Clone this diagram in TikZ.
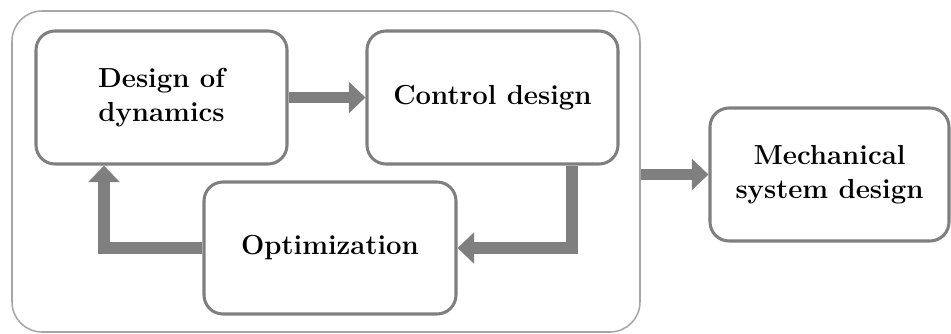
\documentclass[tikz,border=0pt]{standalone}
\usepackage{tikz}
\usetikzlibrary{arrows.meta}
\definecolor{boxgray}{HTML}{7F7F7F}
\definecolor{framegray}{HTML}{A6A6A6}
\tikzset{
  stage/.style={draw=boxgray,line width=2.6pt,rounded corners=0.57cm,fill=white,
    align=center,inner sep=0pt,font=\fontsize{23.5}{29}\selectfont\bfseries},
  frame/.style={draw=framegray,line width=1.3pt,rounded corners=0.9cm,inner sep=0pt},
  flow/.style={draw=boxgray,line width=10pt,
    -{Triangle[length=0.5cm,width=0.92cm]}},
}

\begin{document}
\begin{tikzpicture}[x=0.3mm,y=-0.3mm]
  \useasboundingbox (0,0) rectangle (951,333);
  % outer loop of the three design stages
  \node[frame,minimum width=18.84cm,minimum height=9.63cm] (loop) at (326,171.5) {};
  \node[stage,minimum width=7.53cm,minimum height=3.99cm] (dyn) at (161.5,97.5) {Design of\\dynamics};
  \node[stage,minimum width=7.53cm,minimum height=3.99cm] (ctrl) at (492.5,97.5) {Control design};
  \node[stage,minimum width=7.56cm,minimum height=3.96cm] (opt) at (330,248) {Optimization};
  \node[stage,minimum width=7.17cm,minimum height=3.99cm] (mech) at (829.5,174.5) {Mechanical\\system design};
  % arrows
  \draw[flow] (dyn) -- (ctrl);
  \draw[flow] (ctrl.south -| 572,0) |- (opt.east);
  \draw[flow] (opt.west) -| (dyn.south -| 104,0);
  \draw[flow] (loop.east |- mech.west) -- (mech.west);
\end{tikzpicture}
\end{document}
